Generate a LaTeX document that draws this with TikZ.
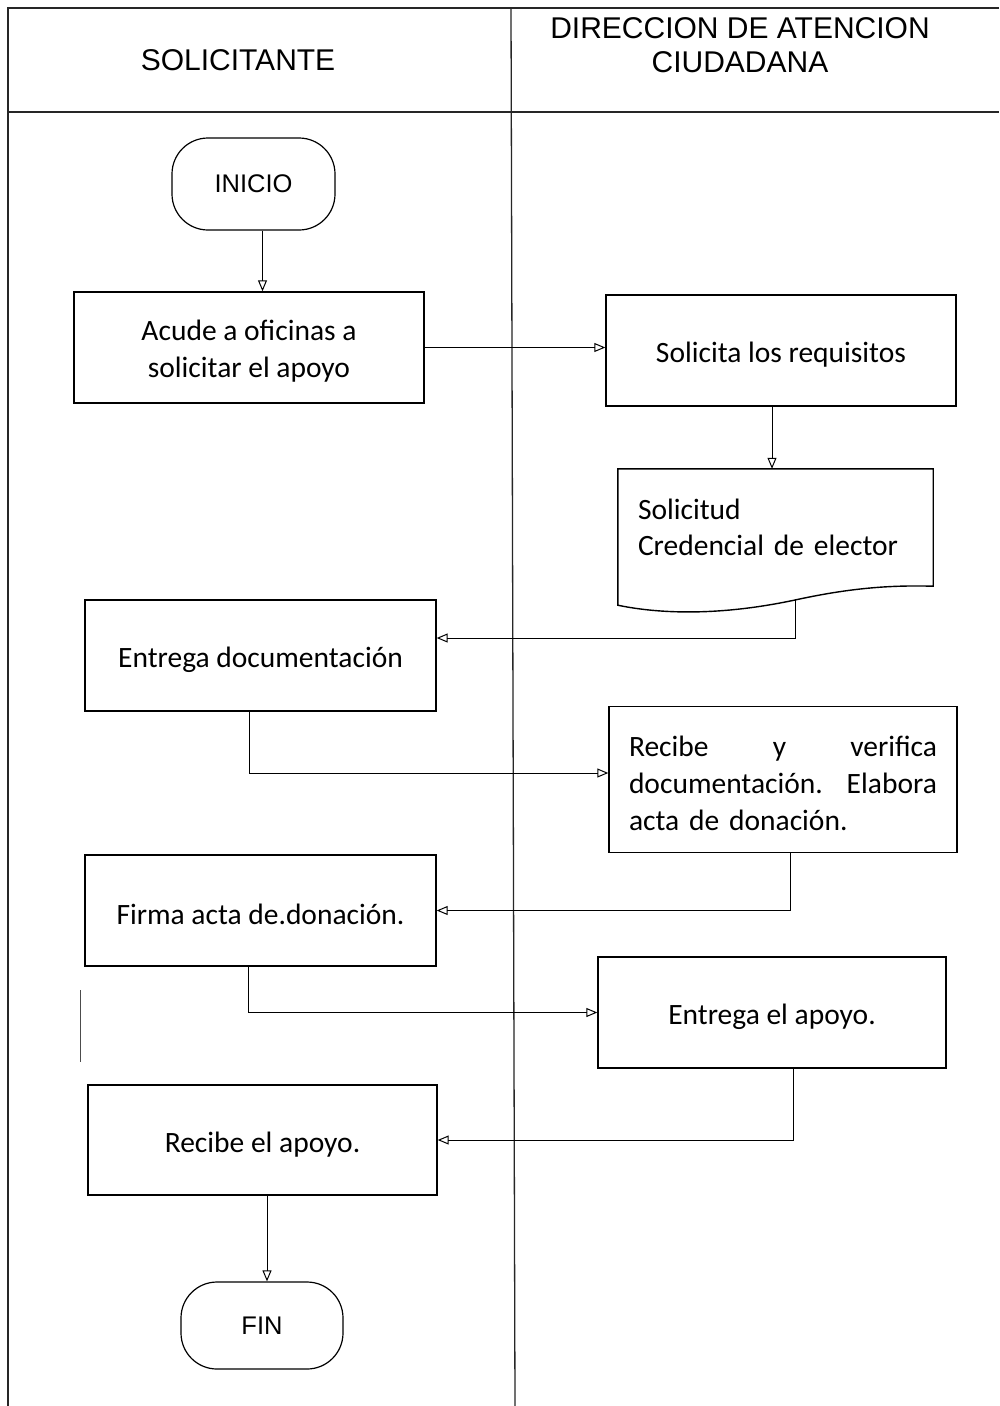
\documentclass[tikz,border=0pt]{standalone}
\usepackage{fontspec}
\setmainfont{Carlito}
\newfontfamily\hdr{Liberation Sans}
\usetikzlibrary{arrows.meta}
\tikzset{
  frame/.style={line width=1.3pt, draw=black!85},
  box/.style={draw, line width=1.4pt, rectangle, align=center,
    font=\fontsize{29.5}{37}\selectfont,
    execute at begin node={\rule{0pt}{29pt}}},
  term/.style={draw, line width=1.2pt, rectangle, rounded corners=36pt,
    font=\hdr\fontsize{25.5}{30}\selectfont},
  hdrtext/.style={font=\hdr\fontsize{30}{34}\selectfont, align=center},
  conn/.style={line width=1pt, -{Triangle[open,length=11pt,width=9pt]}},
  flow/.style={line width=1pt}
}
\begin{document}
\begin{tikzpicture}[x=1pt,y=-1pt]
\useasboundingbox (0,0) rectangle (999,1406);
\fill[white] (0,0) rectangle (999,1406);
% frame
\coordinate (tl) at (8,8);
\coordinate (tr) at (999,8);
\coordinate (bl) at (8,1406);
\coordinate (hl) at (8,112);
\coordinate (hr) at (999,112);
\coordinate (dt) at (511,8);
\coordinate (db) at (515,1406);
\draw[frame] (tr) -- (tl) -- (bl);
\draw[frame] (hl) -- (hr);
\draw[frame] (dt) -- (db);
% headers
\node[hdrtext] (h1) at (238,60) {SOLICITANTE};
\node[hdrtext] (h2) at (740,45) {DIRECCION DE ATENCION\\CIUDADANA};
% nodes
\node[term, minimum width=163pt, minimum height=92pt] (inicio) at (253.5,184) {INICIO};
\node[box, minimum width=350pt, minimum height=111pt] (b1) at (249,347.5)
  {\raisebox{-4.5pt}[\height][\depth]{\begin{tabular}{@{}c@{}}Acude a oficinas a\\solicitar el apoyo\end{tabular}}};
\node[box, minimum width=350pt, minimum height=111pt] (b2) at (781,350.5) {Solicita los requisitos};
\node[align=left, text width=275pt, inner xsep=20pt, inner ysep=0pt,
      minimum width=315pt, minimum height=117pt,
      font=\fontsize{29.5}{36}\selectfont] (doc) at (775.5,527.5) {Solicitud\\Credencial de elector};
\coordinate (docout) at (795,600);
\draw[line width=1.4pt] ([yshift=-19pt]doc.south west) -- (doc.north west) -- (doc.north east) -- (doc.south east)
  .. controls (890,585) and (850,588) .. (docout)
  .. controls (720,616) and (660,614) .. cycle;
\node[box, minimum width=351pt, minimum height=111pt] (b3) at (260.5,655.5) {Entrega documentación};
\node[box, minimum width=348pt, minimum height=146pt, align=left, text width=308pt] (b4) at (783,779.5)
  {Recibe\hfill y\hfill verifica\\documentación.\hfill Elabora\\acta de donación.};
\node[box, minimum width=351pt, minimum height=111pt] (b5) at (260.5,910.5) {Firma acta de.donación.};
\node[box, minimum width=348pt, minimum height=111pt] (b6) at (772,1012.5) {Entrega el apoyo.};
\node[box, minimum width=349pt, minimum height=110pt] (b7) at (262.5,1140) {Recibe el apoyo.};
\node[term, minimum width=162pt, minimum height=87pt] (fin) at (262,1325.5) {FIN};
% connectors
\draw[conn] ([xshift=9pt]inicio.south) -- ([xshift=9pt]inicio.south |- b1.north);
\draw[conn] (b1.east) -- (b1.east -| b2.west);
\draw[conn] ([xshift=-9pt]b2.south) -- ([xshift=-9pt]b2.south |- doc.north);
\draw[conn] (docout) |- ([yshift=17.5pt]b3.east);
\draw[conn] ([xshift=-11.5pt]b3.south) |- ([yshift=6.5pt]b4.west);
\draw[conn] ([xshift=7pt]b4.south) |- (b5.east);
\draw[conn] ([xshift=-12.5pt]b5.south) |- (b6.west);
\draw[conn] ([xshift=21pt]b6.south) |- (b7.east);
\draw[conn] ([xshift=4.5pt]b7.south) -- ([xshift=4.5pt]b7.south |- fin.north);
% scan mark
\coordinate (m1) at (80,990);
\coordinate (m2) at (80,1062);
\draw[line width=0.8pt, black!70] (m1) -- (m2);
\end{tikzpicture}
\end{document}
